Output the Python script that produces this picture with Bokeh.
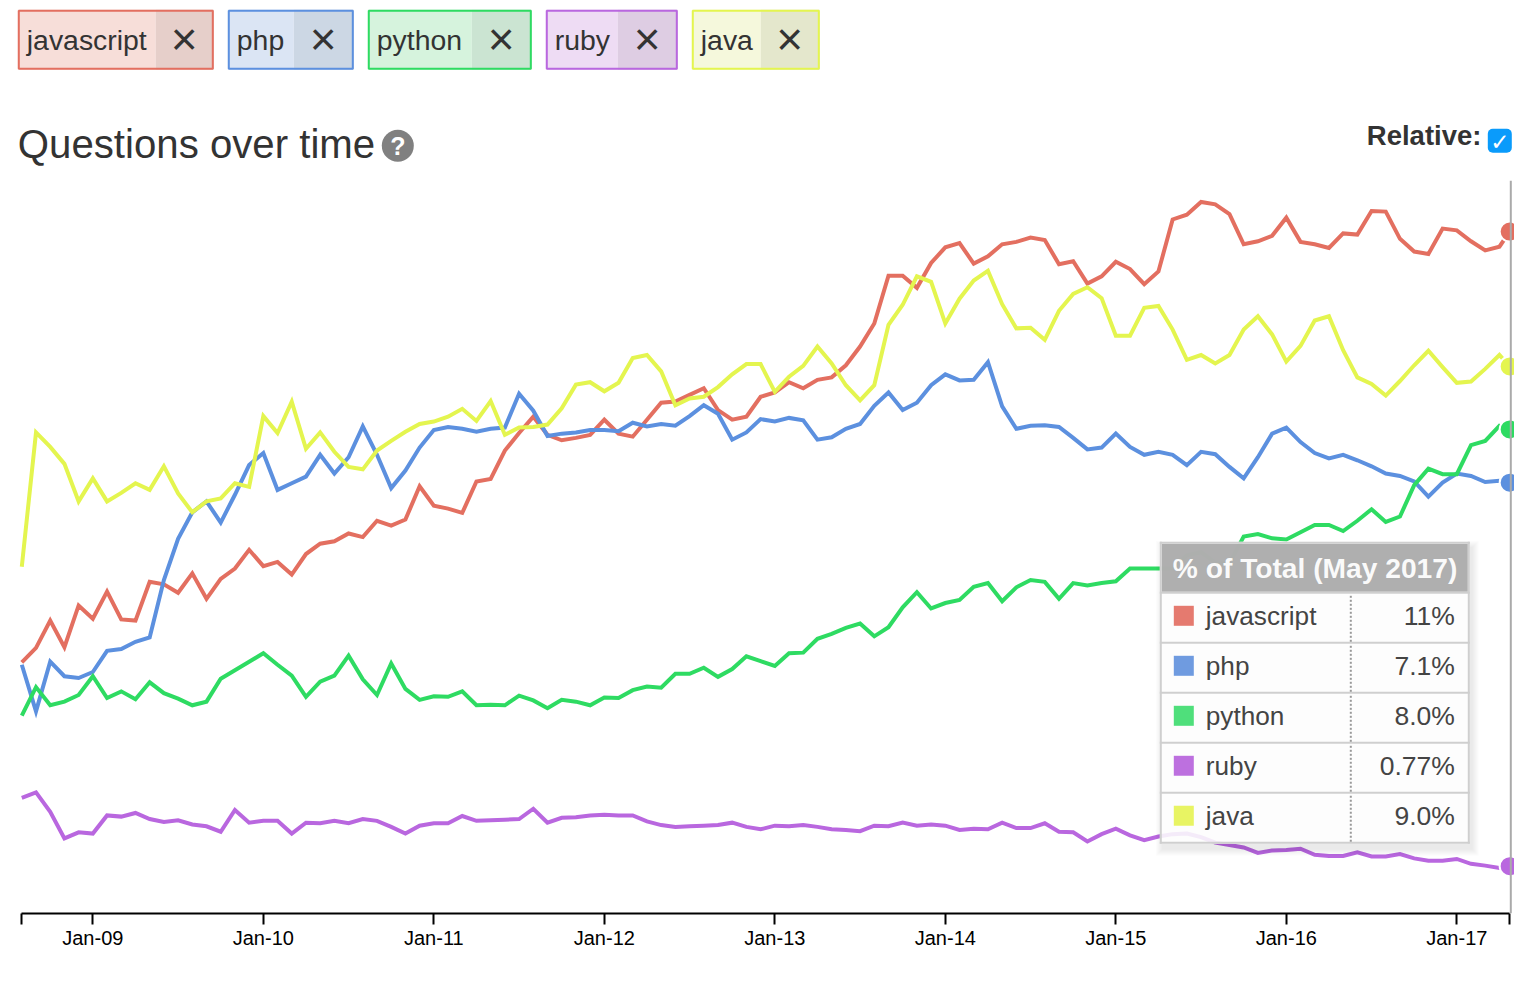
from bokeh.plotting import figure
from bokeh.models import BoxAnnotation, Label, FixedTicker, Range1d
from bokeh.embed import file_html
from bokeh.resources import INLINE

# ---- data: % of all questions, one value per month, Aug 2008 .. May 2017
javascript = [4.14,4.38,4.83,4.39,5.08,4.86,5.31,4.85,4.83,5.47,5.43,5.29,5.61,5.19,5.52,5.69,6.00,5.73,5.80,5.59,5.93,6.10,6.14,6.27,6.21,6.48,
6.40,6.50,7.05,6.73,6.68,6.61,7.13,7.17,7.64,7.93,8.20,7.90,7.81,7.85,7.90,8.15,7.92,7.87,8.15,8.43,8.45,8.56,8.67,8.31,8.15,8.20,
8.53,8.60,8.77,8.67,8.81,8.85,9.05,9.36,9.74,10.53,10.53,10.33,10.74,11.00,11.07,10.73,10.85,11.05,11.09,11.16,11.12,10.72,10.77,10.40,10.52,10.76,
10.64,10.39,10.60,11.46,11.54,11.75,11.71,11.55,11.05,11.10,11.19,11.49,11.09,11.05,10.99,11.23,11.21,11.60,11.59,11.14,10.93,10.89,11.31,11.28,11.10,10.95,11.01,11.26]
php = [4.10,3.33,4.15,3.91,3.88,3.98,4.33,4.36,4.48,4.55,5.50,6.18,6.62,6.80,6.45,6.91,7.40,7.60,6.99,7.10,7.21,7.57,7.26,7.53,8.04,7.57,
7.02,7.31,7.69,7.98,8.03,8.00,7.95,8.00,8.02,8.58,8.30,7.88,7.92,7.94,7.98,7.98,7.96,8.10,8.04,8.08,8.05,8.21,8.39,8.25,7.82,7.94,
8.16,8.12,8.18,8.14,7.82,7.86,8.00,8.08,8.38,8.60,8.31,8.43,8.72,8.90,8.80,8.81,9.10,8.37,8.00,8.05,8.06,8.03,7.85,7.66,7.69,7.92,
7.70,7.57,7.62,7.57,7.40,7.62,7.58,7.37,7.18,7.53,7.92,8.02,7.78,7.60,7.51,7.57,7.48,7.38,7.26,7.22,7.13,6.88,7.11,7.26,7.22,7.12,7.14,7.11]
python = [3.26,3.73,3.43,3.49,3.60,3.91,3.55,3.66,3.53,3.81,3.63,3.54,3.43,3.49,3.87,4.01,4.15,4.29,4.10,3.92,3.57,3.82,3.92,4.25,3.86,3.60,
4.12,3.70,3.52,3.58,3.57,3.66,3.43,3.44,3.43,3.59,3.51,3.38,3.52,3.49,3.43,3.56,3.55,3.68,3.74,3.72,3.95,3.95,4.05,3.90,4.03,4.24,
4.16,4.08,4.29,4.30,4.53,4.61,4.71,4.78,4.57,4.72,5.05,5.30,5.03,5.12,5.17,5.39,5.45,5.15,5.38,5.50,5.47,5.19,5.45,5.41,5.45,5.48,
5.69,5.69,5.69,5.69,5.91,5.96,5.79,5.78,6.22,6.26,6.19,6.17,6.29,6.41,6.41,6.31,6.48,6.67,6.46,6.55,7.07,7.34,7.25,7.25,7.73,7.80,8.05,7.99]
ruby = [1.90,1.99,1.67,1.23,1.33,1.31,1.61,1.59,1.65,1.55,1.50,1.53,1.46,1.43,1.34,1.70,1.49,1.52,1.52,1.31,1.49,1.48,1.52,1.48,1.55,1.52,
1.42,1.31,1.44,1.48,1.48,1.60,1.52,1.53,1.54,1.55,1.72,1.49,1.57,1.58,1.61,1.62,1.61,1.61,1.51,1.45,1.42,1.43,1.44,1.45,1.49,1.42,
1.38,1.44,1.43,1.45,1.42,1.38,1.37,1.35,1.44,1.43,1.49,1.44,1.46,1.44,1.37,1.39,1.38,1.49,1.40,1.40,1.48,1.34,1.33,1.18,1.30,1.39,
1.28,1.20,1.26,1.30,1.31,1.25,1.16,1.12,1.08,0.99,1.03,1.04,1.06,0.96,0.94,0.94,1.00,0.93,0.93,0.97,0.90,0.86,0.86,0.89,0.81,0.78,0.74,0.77]
java = [5.72,7.94,7.70,7.42,6.80,7.18,6.80,6.94,7.10,6.99,7.38,6.93,6.62,6.80,6.85,7.10,7.04,8.21,7.93,8.45,7.67,7.94,7.62,7.37,7.33,7.64,
7.80,7.95,8.08,8.12,8.20,8.33,8.13,8.46,7.90,8.02,8.03,8.07,8.34,8.73,8.77,8.62,8.76,9.17,9.22,8.95,8.39,8.50,8.53,8.69,8.90,9.07,
9.07,8.61,8.86,9.04,9.36,9.08,8.72,8.47,8.72,9.72,10.05,10.52,10.43,9.74,10.15,10.45,10.61,10.06,9.66,9.67,9.47,9.95,10.23,10.34,10.16,9.54,
9.54,10.00,10.03,9.64,9.14,9.22,9.08,9.22,9.64,9.86,9.56,9.11,9.37,9.79,9.86,9.30,8.85,8.74,8.55,8.79,9.05,9.29,9.02,8.76,8.78,8.99,9.22,9.03]

names = ["javascript", "php", "python", "ruby", "java"]
series = [javascript, php, python, ruby, java]
tooltip_values = ["11%", "7.1%", "8.0%", "0.77%", "9.0%"]
tooltip_title = "% of Total (May 2017)"
chart_title = "Questions over time"
tick_months = [5, 17, 29, 41, 53, 65, 77, 89, 101]
tick_labels = ["Jan-09", "Jan-10", "Jan-11", "Jan-12", "Jan-13", "Jan-14", "Jan-15", "Jan-16", "Jan-17"]
# month position of every sample; the last sample is cut at the end of the axis
months = list(range(105)) + [104.72]
axis_start, axis_end = -0.03, 104.72

line_colors = ["#e36f60", "#5c90df", "#2edb62", "#b967df", "#e4f54f"]
swatch_colors = ["#e57a6f", "#6f9be0", "#4fdf7b", "#bd70df", "#e8f463"]
chip_left = ["#f7ded9", "#dbe5f4", "#d6f3dd", "#eedcf4", "#f5f8dc"]
chip_right = ["#e6cfca", "#ccd7e4", "#cbe4d2", "#decde3", "#e4e7cc"]
chip_x = [(18, 156, 214), (228, 294, 354), (368, 472, 532), (546, 618, 678), (692, 761, 820)]

FONT = "Liberation Sans"
BASE = 913   # page y of the axis line
p = figure(width=1514, height=968, output_backend="svg", toolbar_location=None,
           min_border_left=0, min_border_right=0, min_border_top=0, min_border_bottom=55,
           x_range=Range1d((0 - 21.3) / 14.208, (1514 - 21.3) / 14.208),
           y_range=Range1d(-0.7 / 60.5, (BASE - 0.7) / 60.5), y_axis_location=None)
p.grid.visible = False
p.outline_line_color = None
p.background_fill_color = "white"

ax = p.xaxis[0]
ax.bounds = (axis_start, axis_end)
ax.ticker = FixedTicker(ticks=[axis_start] + tick_months + [axis_end])
ov = {m: l for m, l in zip(tick_months, tick_labels)}
ov[axis_start] = ""
ov[axis_end] = ""
ax.major_label_overrides = ov
ax.axis_line_color = "black"
ax.axis_line_width = 2
ax.major_tick_line_color = "black"
ax.major_tick_line_width = 2
ax.major_tick_in = 0
ax.major_tick_out = 11
ax.minor_tick_line_color = None
ax.major_label_standoff = 2
ax.major_label_text_font = FONT
ax.major_label_text_font_size = "20px"
ax.major_label_text_color = "black"


def sx(px):
    return px - 0.7


def sy(py):
    return BASE - py + 0.7


def box(x0, x1, y0, y1, color, alpha=1.0, radius=0, line=None, lw=0):
    b = BoxAnnotation(left=sx(x0), right=sx(x1), top=sy(y0), bottom=sy(y1),
                      left_units="screen", right_units="screen", top_units="screen", bottom_units="screen",
                      fill_color=color, fill_alpha=alpha, line_color=line, line_alpha=1.0, line_width=lw,
                      border_radius=radius, editable=False)
    p.add_layout(b)
    return b


def label(x, y, text, size, color="#333333", align="left", style="normal", font=FONT, baseline="alphabetic", alpha=1.0):
    # y is the page position of the text's baseline
    l = Label(x=sx(x), y=sy(y - 0.36 * size), x_units="screen", y_units="screen", text=text, text_font=font,
              text_font_size=f"{size}px", text_color=color, text_align=align, text_alpha=alpha,
              text_font_style=style, text_baseline=baseline)
    p.add_layout(l)
    return l


# the hairline marking the hovered month
box(1510, 1512, 181, 913.7, "#aaaaaa")

for s, c in zip(series, line_colors):
    p.line(months, s, line_color=c, line_width=4, line_join="miter")
for s, c in zip(series, line_colors):
    p.scatter([months[-1]], [s[-1]], size=20, fill_color=c, line_color="white", line_width=2)

# language chips
for name, (x0, xm, x1), c, cl, cr in zip(names, chip_x, line_colors, chip_left, chip_right):
    box(x0, xm, 10, 70, cl)
    box(xm, x1, 10, 70, cr)
    box(x0 + 1, x1 - 1, 11, 69, None, alpha=0, line=c, lw=2)
    label(x0 + 9, 50, name, 28.4)
    label((xm + x1) / 2 - 0.5, 56, "\u00d7", 46, align="center")

# heading
label(18, 159, chart_title, 40.2)
box(382, 414, 130, 162, "#808080", radius=16)
label(398, 155, "?", 25, color="white", align="center", style="bold")
label(1367, 146, "Relative:", 27.5, style="bold")
box(1488, 1512, 129, 153, "#0a9bfb", radius=5)
label(1500, 150, "\u2713", 23, color="white", align="center", style="bold", font="DejaVu Sans")

# tooltip
for i in range(1, 8):
    box(1160 - i + 3, 1470 + i + 2, 543 - i + 5, 844 + i + 5, "#000000", alpha=0.012)
box(1160, 1470, 542, 844, "white", alpha=0.88)
box(1162, 1468, 544, 592, "#a6a6a6", alpha=0.9)
for py in [543, 593, 643, 693, 743, 793, 843]:
    box(1160, 1470, py - 1, py + 1, "#cfcfcf")
box(1160, 1162, 542, 844, "#cfcfcf")
box(1468, 1470, 542, 844, "#cfcfcf")
label(1173, 578, tooltip_title, 28.2, color="white", style="bold", alpha=0.95)
for r, (name, val, col) in enumerate(zip(names, tooltip_values, swatch_colors)):
    y = 50 * r
    box(1174, 1194, 606 + y, 626 + y, col)
    label(1206, 626 + y, name, 26.2, color="#444444")
    label(1455, 626 + y, val, 26.5, color="#444444", align="right")
    for k in range(0, 46, 4):
        box(1350, 1352, 596 + y + k, 598 + y + k, "#999999")

open("out.html", "w").write(file_html(p, INLINE))
